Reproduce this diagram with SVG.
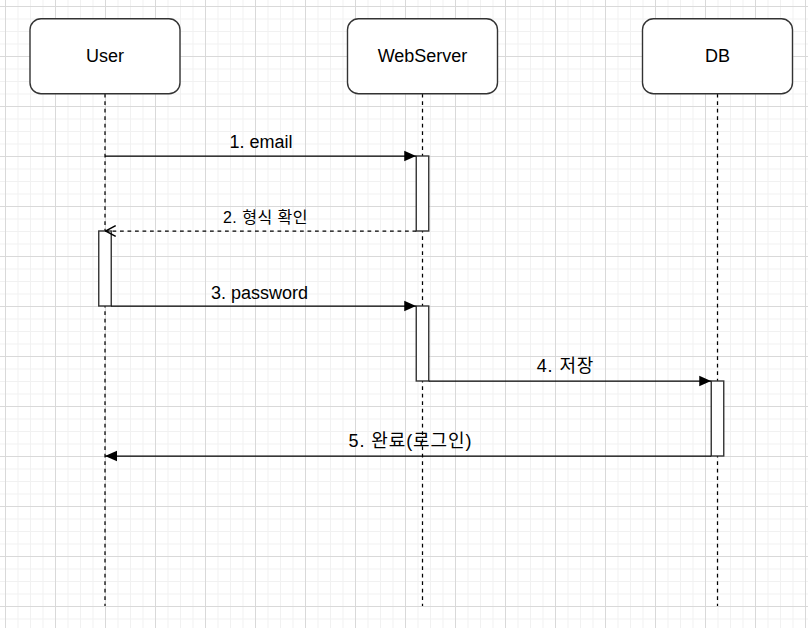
<svg xmlns="http://www.w3.org/2000/svg" width="808" height="628" viewBox="0 0 808 628">
  <defs>
    <pattern id="grid" patternUnits="userSpaceOnUse" x="5" y="6" width="50" height="50">
      <path d="M13 0V50M25.5 0V50M38 0V50M0 13H50M0 25.5H50M0 38H50" stroke="#f1f1f1" stroke-width="1" fill="none"/>
      <path d="M0.5 0V50M0 0.5H50" stroke="#d9d9d9" stroke-width="1" fill="none"/>
    </pattern>
    <marker id="block" markerUnits="userSpaceOnUse" markerWidth="12" markerHeight="12" viewBox="0 0 10 10" refX="10" refY="5" orient="auto">
      <path d="M0 0.6L10 5L0 9.4Z" fill="#000"/>
    </marker>
    <marker id="open" markerUnits="userSpaceOnUse" markerWidth="12" markerHeight="12" viewBox="0 0 10 10" refX="9.5" refY="5" orient="auto">
      <path d="M1 0.5L9.5 5L1 9.5" fill="none" stroke="#000" stroke-width="1.2"/>
    </marker>
    <style>
      .head{fill:#fff;stroke:#333;stroke-width:1.4}
      .life{stroke:#000;stroke-width:1.25;stroke-dasharray:3.75 3.75;fill:none}
      .act{fill:#fff;stroke:#333;stroke-width:1.4}
      .t{font-family:"Liberation Sans","Noto Sans CJK KR",Arial,sans-serif;font-size:18px;fill:#000;text-anchor:middle}
      .s{font-size:16px;letter-spacing:0.5px}
      .k{letter-spacing:0.9px}
      .msg{stroke:#000;stroke-width:1.25;fill:none}
      .dash{stroke-dasharray:3.75 3.75}
    </style>
  </defs>
  <rect width="808" height="628" fill="#fff"/>
  <rect width="808" height="628" fill="url(#grid)"/>

  <g id="user">
    <line class="life" x1="105" y1="93.75" x2="105" y2="606"/>
    <rect class="head" x="30" y="18.75" width="150" height="75" rx="11"/>
    <text class="t" x="105" y="62">User</text>
  </g>
  <g id="webserver">
    <line class="life" x1="422.5" y1="93.75" x2="422.5" y2="606"/>
    <rect class="head" x="347.5" y="18.75" width="150" height="75" rx="11"/>
    <text class="t" x="422.5" y="62">WebServer</text>
  </g>
  <g id="db">
    <line class="life" x1="717.5" y1="93.75" x2="717.5" y2="606"/>
    <rect class="head" x="642.5" y="18.75" width="150" height="75" rx="11"/>
    <text class="t" x="717.5" y="62">DB</text>
  </g>

  <g id="activations">
    <rect id="act-ws-1" class="act" x="416.25" y="156" width="12.5" height="75"/>
    <rect id="act-user-1" class="act" x="98.75" y="231" width="12.5" height="75"/>
    <rect id="act-ws-2" class="act" x="416.25" y="306" width="12.5" height="75"/>
    <rect id="act-db-1" class="act" x="711.25" y="381" width="12.5" height="75"/>
  </g>

  <g id="connectors">
    <line class="msg" x1="105" y1="156" x2="416.25" y2="156" marker-end="url(#block)"/>
    <line class="msg dash" x1="416.25" y1="231" x2="105.5" y2="231" marker-end="url(#open)"/>
    <line class="msg" x1="111.25" y1="306" x2="416.25" y2="306" marker-end="url(#block)"/>
    <line class="msg" x1="428.75" y1="381" x2="711.25" y2="381" marker-end="url(#block)"/>
    <line class="msg" x1="711.25" y1="456" x2="105" y2="456" marker-end="url(#block)"/>
  </g>

  <g id="labels">
    <text class="t" x="261" y="147.5">1. email</text>
    <text class="t s" x="265.5" y="223">2. 형식 확인</text>
    <text class="t" x="259.5" y="298.5">3. password</text>
    <text class="t k" x="565.5" y="372">4. 저장</text>
    <text class="t k" x="410.5" y="447">5. 완료(로그인)</text>
  </g>
</svg>
